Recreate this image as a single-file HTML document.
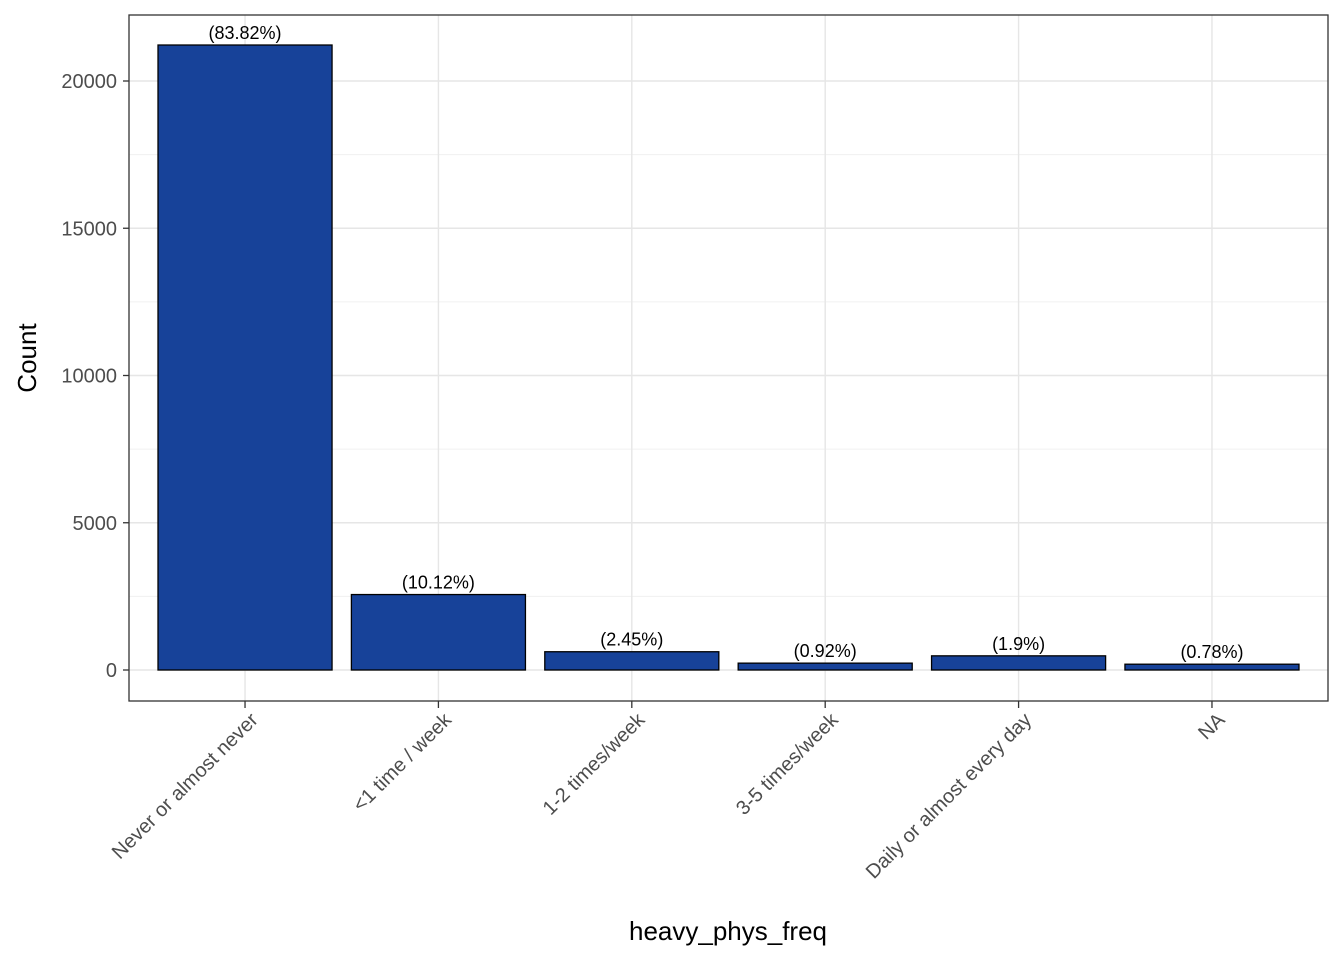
<!DOCTYPE html>
<html><head><meta charset="utf-8"><style>
body{margin:0;background:#fff;}
text{font-family:"Liberation Sans",Arial,sans-serif;}
</style></head><body>
<svg id="chart" width="1344" height="960" xmlns="http://www.w3.org/2000/svg">
<rect x="0" y="0" width="1344" height="960" fill="#fff"/>
<g id="grid"></g>
<g id="bars"></g>
<rect x="129" y="15" width="1199" height="686" fill="none" stroke="#333" stroke-width="1.3"/>
<g id="axes"></g>
<text x="728" y="940" text-anchor="middle" font-size="26" fill="#000">heavy_phys_freq</text>
<text transform="translate(36,358) rotate(-90)" text-anchor="middle" font-size="26" fill="#000">Count</text>
</svg>
<script>
const categories=["Never or almost never","<1 time / week","1-2 times/week","3-5 times/week","Daily or almost every day","NA"];
const counts=[21222,2562,620,233,481,197];
const pctLabels=["(83.82%)","(10.12%)","(2.45%)","(0.92%)","(1.9%)","(0.78%)"];
const yTicks=[0,5000,10000,15000,20000];
const yMinor=[2500,7500,12500,17500];
const NS="http://www.w3.org/2000/svg";
const L=129,R=1328,T=15,B=701;
const y=v=>670-v*(589/20000);
const x=i=>L+(i+0.6)*((R-L)/6.2);
const bw=0.9*(R-L)/6.2;
function mk(tag,attrs,parent){const e=document.createElementNS(NS,tag);for(const k in attrs)e.setAttribute(k,attrs[k]);parent.appendChild(e);return e;}
const grid=document.getElementById('grid'),bars=document.getElementById('bars'),axes=document.getElementById('axes');
yMinor.forEach(v=>{const l=mk('line',{x1:L,x2:R,y1:y(v),y2:y(v),stroke:'#f0f0f0','stroke-width':1},grid);

});
yTicks.forEach(v=>{const l=mk('line',{x1:L,x2:R,y1:y(v),y2:y(v),stroke:'#e6e6e6','stroke-width':1.4},grid);


const t=mk('line',{x1:L-6,x2:L,y1:y(v),y2:y(v),stroke:'#333','stroke-width':1.3},axes);


const tx=mk('text',{x:L-12,y:y(v)+7,'text-anchor':'end','font-size':20,fill:'#4d4d4d'},axes);
tx.textContent=v;

});
categories.forEach((c,i)=>{const cx=x(i);
const g=mk('line',{x1:cx,x2:cx,y1:T,y2:B,stroke:'#e6e6e6','stroke-width':1.4},grid);


const b=mk('rect',{x:cx-bw/2,y:y(counts[i]),width:bw,height:y(0)-y(counts[i]),fill:'#174299',stroke:'#000','stroke-width':1.3},bars);


const lb=mk('text',{x:cx,y:y(counts[i])-6,'text-anchor':'middle','font-size':18,fill:'#000'},bars);
lb.textContent=pctLabels[i];


const t=mk('line',{x1:cx,x2:cx,y1:B,y2:B+7,stroke:'#333','stroke-width':1.3},axes);


const tx=mk('text',{transform:`translate(${cx+14},${B+20}) rotate(-45)`,'text-anchor':'end','font-size':20,fill:'#4d4d4d'},axes);
tx.textContent=c;

});
</script>
</body></html>
